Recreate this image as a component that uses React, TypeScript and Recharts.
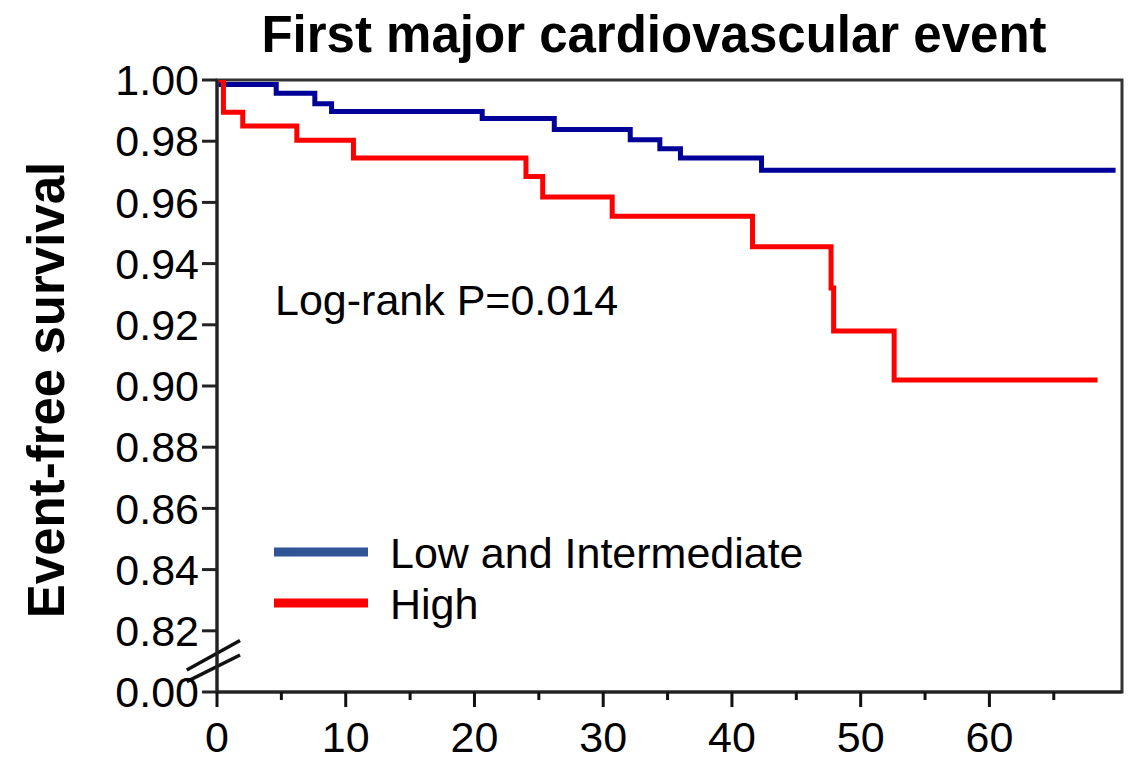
import React from 'react';
import {
  LineChart,
  Line,
  XAxis,
  YAxis,
  ReferenceArea,
  ReferenceLine,
  Legend,
} from 'recharts';

// Kaplan-Meier steps (months, event-free survival)
const lowTimes = [0, 0.3, 4.6, 7.6, 8.9, 20.6, 26.2, 32.1, 34.4, 36.0, 42.3, 69.8];
const lowSurvival = [1.0, 0.9985, 0.9957, 0.9922, 0.9897, 0.9874, 0.9838, 0.9805, 0.9775, 0.9745, 0.9705, 0.9705];

const highTimes = [0, 0.5, 2.0, 6.2, 10.6, 24.0, 25.3, 30.7, 41.6, 47.7, 47.9, 52.6, 68.4];
const highSurvival = [1.0, 0.9895, 0.985, 0.9803, 0.9745, 0.9685, 0.9618, 0.9555, 0.9455, 0.932, 0.918, 0.902, 0.902];

const yTicks = [0.8, 0.82, 0.84, 0.86, 0.88, 0.9, 0.92, 0.94, 0.96, 0.98, 1.0];
const xTicks = [0, 5, 10, 15, 20, 25, 30, 35, 40, 45, 50, 55, 60, 65];

const seriesNames = ['Low and Intermediate', 'High'];
const legendColors = ['#2f5597', '#ff0000'];

const X_MAX = 70.3;
const FONT = '"Liberation Sans", Arial, sans-serif';

const lowData = lowTimes.map((t, i) => ({ time: t, survival: lowSurvival[i] }));
const highData = highTimes.map((t, i) => ({ time: t, survival: highSurvival[i] }));

// bottom tick of the broken axis is shown as 0.00
const formatY = (v: number) => (Math.abs(v - 0.8) < 1e-9 ? '0.00' : v.toFixed(2));

function XTick(props: any) {
  const { x, y, payload } = props;
  const major = payload.value % 10 === 0;
  return (
    <g>
      <line x1={x} x2={x} y1={y} y2={y + (major ? 15 : 8)} stroke="#111" strokeWidth={3} />
      {major && (
        <text x={x} y={y + 60} textAnchor="middle" fontSize={43} fontFamily={FONT} fill="#000">
          {payload.value}
        </text>
      )}
    </g>
  );
}

function renderLegend() {
  return (
    <svg width={600} height={110} style={{ overflow: 'visible' }}>
      {seriesNames.map((name, i) => (
        <g key={name}>
          <line x1={4} x2={98} y1={32 + i * 51} y2={32 + i * 51} stroke={legendColors[i]} strokeWidth={9} />
          <text x={120} y={48 + i * 51} fontSize={43} fontFamily={FONT} fill="#000">
            {name}
          </text>
        </g>
      ))}
    </svg>
  );
}

export default function App() {
  return (
    <div style={{ position: 'fixed', left: 0, top: 0, width: 1131, height: 760, background: '#fff' }}>
      <LineChart width={1131} height={760} margin={{ top: 80, right: 9, bottom: 0, left: 0 }}>
        <XAxis
          type="number"
          dataKey="time"
          domain={[0, X_MAX]}
          ticks={xTicks}
          interval={0}
          allowDataOverflow
          height={68}
          tickSize={0}
          tickMargin={0}
          tickLine={false}
          tick={<XTick />}
          axisLine={{ stroke: '#222', strokeWidth: 3 }}
        />
        <YAxis
          type="number"
          domain={[0.8, 1.0]}
          ticks={yTicks}
          interval={0}
          allowDataOverflow
          width={217}
          tickSize={15}
          tickMargin={3}
          tickFormatter={formatY}
          tick={{ fontSize: 43, fill: '#000', fontFamily: FONT }}
          tickLine={{ stroke: '#222', strokeWidth: 3 }}
          axisLine={{ stroke: '#222', strokeWidth: 3 }}
        />
        <ReferenceArea
          x1={0}
          x2={X_MAX}
          y1={0.8}
          y2={1.0}
          fill="none"
          fillOpacity={0}
          stroke="#333"
          strokeWidth={3}
          ifOverflow="visible"
        />
        {/* axis break marks */}
        <ReferenceLine
          segment={[{ x: -2.35, y: 0.8072 }, { x: 1.79, y: 0.8168 }]}
          stroke="#111"
          strokeWidth={3.5}
          ifOverflow="visible"
        />
        <ReferenceLine
          segment={[{ x: -2.35, y: 0.8034 }, { x: 1.79, y: 0.8121 }]}
          stroke="#111"
          strokeWidth={3.5}
          ifOverflow="visible"
        />
        <Line
          data={lowData}
          dataKey="survival"
          name={seriesNames[0]}
          type="stepAfter"
          stroke="#000099"
          strokeWidth={5}
          dot={false}
          activeDot={false}
          isAnimationActive={false}
        />
        <Line
          data={highData}
          dataKey="survival"
          name={seriesNames[1]}
          type="stepAfter"
          stroke="#ff0000"
          strokeWidth={5}
          dot={false}
          activeDot={false}
          isAnimationActive={false}
        />
        <Legend
          layout="horizontal"
          verticalAlign="middle"
          align="center"
          wrapperStyle={{ left: 270, top: 520, width: 600, height: 110 }}
          content={renderLegend}
        />
      </LineChart>
      <svg
        width={1131}
        height={760}
        style={{ position: 'absolute', left: 0, top: 0, pointerEvents: 'none' }}
      >
        <text x={654} y={52} textAnchor="middle" fontSize={51} fontWeight="bold" fontFamily={FONT} fill="#000">
          First major cardiovascular event
        </text>
        <text
          transform="translate(64, 390) rotate(-90)"
          textAnchor="middle"
          fontSize={51}
          fontWeight="bold"
          fontFamily={FONT}
          fill="#000"
        >
          Event-free survival
        </text>
        <text x={275} y={315} fontSize={43} fontFamily={FONT} fill="#000">
          Log-rank P=0.014
        </text>
      </svg>
    </div>
  );
}
